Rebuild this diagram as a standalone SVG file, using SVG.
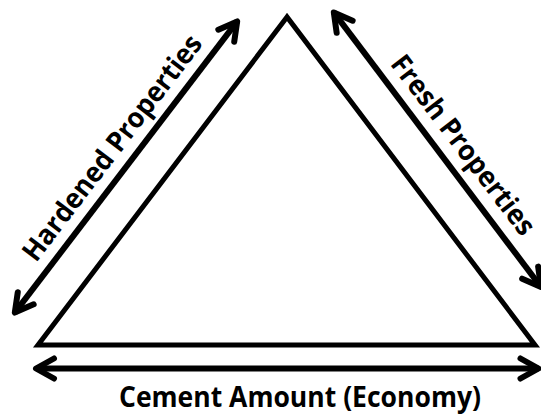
<svg xmlns="http://www.w3.org/2000/svg" width="541" height="416" viewBox="0 0 541 416">
<style>
.tri{fill:#fff;stroke:#000;stroke-width:5;stroke-linejoin:miter}
.arr{fill:none;stroke:#000;stroke-width:6;marker-start:url(#head);marker-end:url(#head)}
.lbl{font-family:"Open Sans","Liberation Sans",sans-serif;font-weight:bold;font-size:28px;fill:#000;text-anchor:middle}
</style>
<defs>
<marker id="head" markerUnits="userSpaceOnUse" viewBox="-30 -20 40 40" markerWidth="40" markerHeight="40" refX="0" refY="0" orient="auto-start-reverse" overflow="visible">
<path d="M-18,-10 L0,0 L-18,10" fill="none" stroke="#000" stroke-width="6" stroke-linecap="round" stroke-linejoin="round"/>
</marker>
</defs>
<rect width="541" height="416" fill="#fff"/>
<g id="triangle">
<polygon class="tri" points="287,17 38,345 535,345"/>
</g>
<g id="connectors">
<line class="arr" x1="14.8" y1="312.6" x2="237.2" y2="21.4"/>
<line class="arr" x1="333.8" y1="12.4" x2="541" y2="287"/>
<line class="arr" x1="36" y1="368.5" x2="538.5" y2="368.5"/>
</g>
<g id="label-hardened">
<text class="lbl" transform="translate(119.8,153.7) rotate(-52.6)" textLength="276" lengthAdjust="spacingAndGlyphs">Hardened Properties</text>
</g>
<g id="label-fresh">
<text class="lbl" transform="translate(455.6,150.8) rotate(52.7)" textLength="218" lengthAdjust="spacingAndGlyphs">Fresh Properties</text>
</g>
<g id="label-cement">
<text class="lbl" x="300" y="407" textLength="362" lengthAdjust="spacingAndGlyphs">Cement Amount (Economy)</text>
</g>
</svg>
